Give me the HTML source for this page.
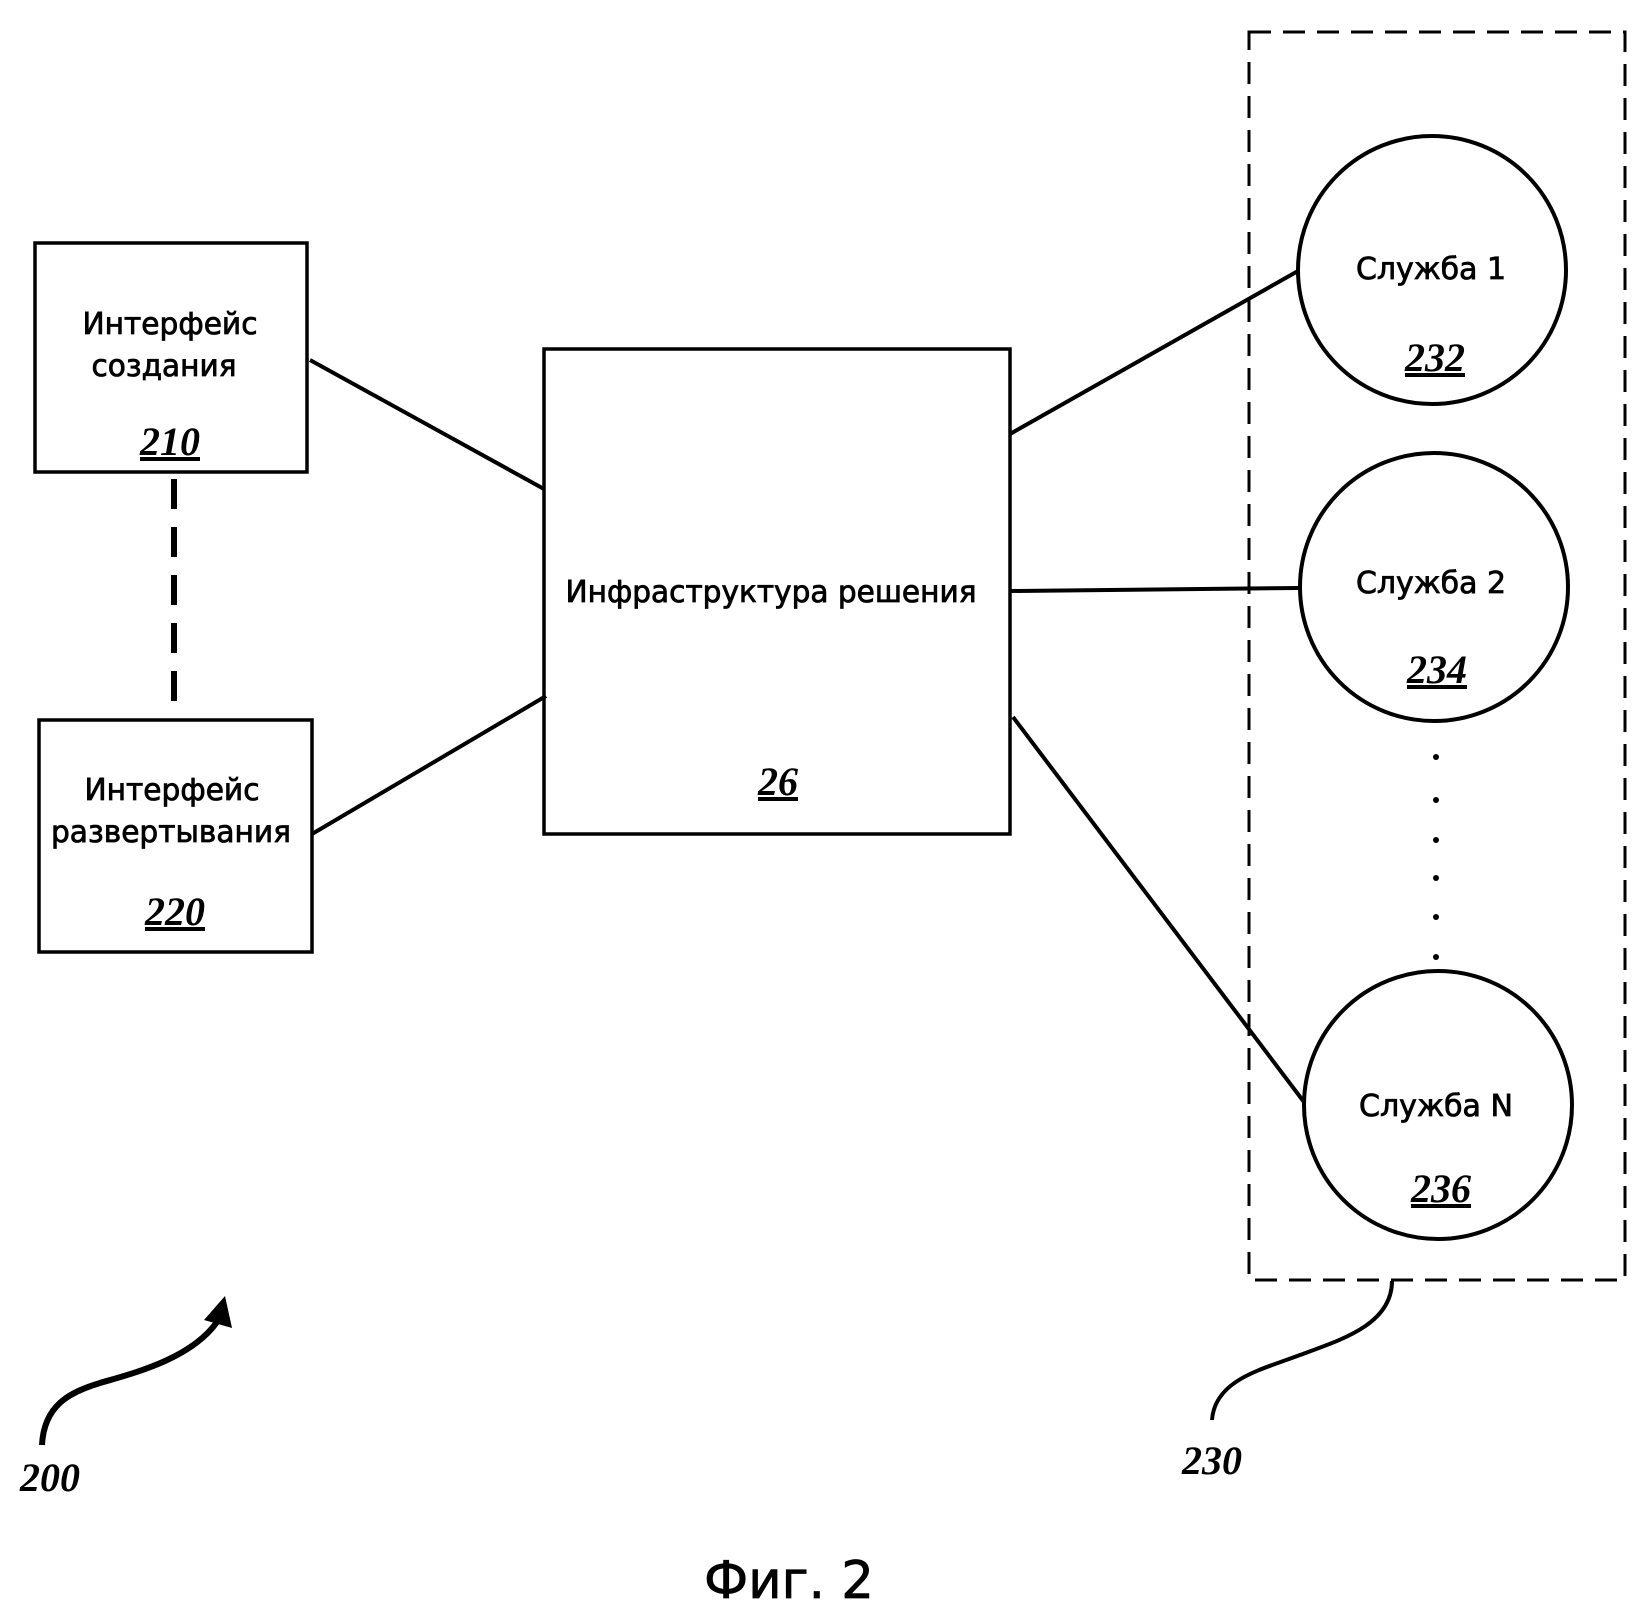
<!DOCTYPE html>
<html><head><meta charset="utf-8"><style>
html,body{margin:0;padding:0;background:#fff;}
svg{display:block;}
.t{font-family:"DejaVu Sans","Liberation Sans",sans-serif;font-size:30px;fill:#000;stroke:#000;stroke-width:0.8;}
.n{font-family:"Liberation Serif",serif;font-weight:bold;font-style:italic;font-size:40px;fill:#000;text-decoration:underline;}
</style></head><body>
<svg width="1641" height="1617" viewBox="0 0 1641 1617" xmlns="http://www.w3.org/2000/svg">
<g fill="none" stroke="#000" stroke-width="3.5">
<rect x="35" y="243" width="272" height="229"/>
<rect x="39" y="720" width="273" height="232"/>
<rect x="544" y="349" width="466" height="485"/>
<circle cx="1432" cy="270" r="134" stroke-width="4"/>
<circle cx="1434" cy="587" r="134" stroke-width="4"/>
<circle cx="1438" cy="1105" r="134" stroke-width="4"/>
<line x1="310" y1="360" x2="544" y2="489" stroke-width="4"/>
<line x1="312" y1="834" x2="546" y2="696" stroke-width="4"/>
<line x1="1010" y1="434" x2="1298" y2="271" stroke-width="4"/>
<line x1="1010" y1="591" x2="1300" y2="588" stroke-width="4"/>
<line x1="1013" y1="717" x2="1304" y2="1102" stroke-width="4"/>
<line x1="174" y1="479" x2="174" y2="720" stroke-width="6" stroke-dasharray="30,18"/>
<rect x="1249" y="32" width="376" height="1248" stroke-width="3" stroke-dasharray="22,12"/>
<path d="M42,1445 C44,1405 70,1392 100,1383 S190,1360 217,1322" stroke-width="6"/>
<path d="M1212,1420 C1215,1380 1260,1370 1300,1355 S1392,1325 1392,1281" stroke-width="4"/>
</g>
<polygon points="225,1296 204,1320 232,1328" fill="#000"/>
<g fill="#000">
<circle cx="1436" cy="757" r="3"/><circle cx="1436" cy="800" r="3"/><circle cx="1436" cy="840" r="3"/>
<circle cx="1436" cy="878" r="3"/><circle cx="1436" cy="917" r="3"/><circle cx="1436" cy="957" r="3"/>
</g>
<g text-anchor="middle">
<text class="t" x="170" y="334" textLength="175" lengthAdjust="spacingAndGlyphs">Интерфейс</text>
<text class="t" x="164" y="376" textLength="145" lengthAdjust="spacingAndGlyphs">создания</text>
<text class="n" x="170" y="455">210</text>
<text class="t" x="172" y="800" textLength="175" lengthAdjust="spacingAndGlyphs">Интерфейс</text>
<text class="t" x="171" y="842" textLength="240" lengthAdjust="spacingAndGlyphs">развертывания</text>
<text class="n" x="175" y="925">220</text>
<text class="t" x="771" y="602" textLength="411" lengthAdjust="spacingAndGlyphs">Инфраструктура решения</text>
<text class="n" x="778" y="795">26</text>
<text class="t" x="1431" y="279" textLength="150" lengthAdjust="spacingAndGlyphs">Служба 1</text>
<text class="n" x="1435" y="371">232</text>
<text class="t" x="1431" y="593" textLength="150" lengthAdjust="spacingAndGlyphs">Служба 2</text>
<text class="n" x="1437" y="683">234</text>
<text class="t" x="1436" y="1116" textLength="154" lengthAdjust="spacingAndGlyphs">Служба N</text>
<text class="n" x="1441" y="1202">236</text>
<text class="n" x="50" y="1491" style="text-decoration:none">200</text>
<text class="n" x="1212" y="1474" style="text-decoration:none">230</text>
<text x="789" y="1598" font-family="DejaVu Sans,Liberation Sans,sans-serif" font-size="52" stroke="#000" stroke-width="0.8" textLength="170" lengthAdjust="spacingAndGlyphs">Фиг. 2</text>
</g>
</svg>
</body></html>
